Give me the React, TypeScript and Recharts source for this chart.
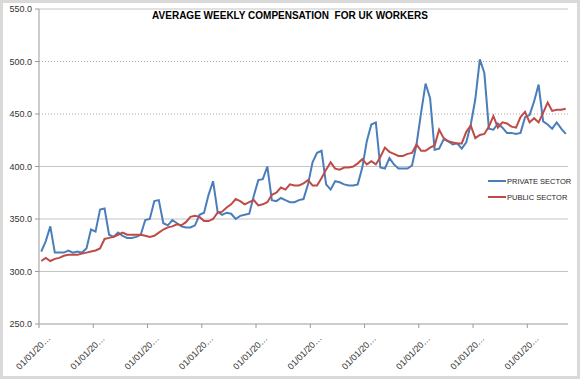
import { LineChart, Line, XAxis, YAxis, CartesianGrid, Legend, ReferenceLine } from 'recharts'

// ── Data: monthly average weekly pay (£), first point = January of year one ──

const privateSector = [
  319, 329, 343, 318, 318, 318, 320, 318, 319, 318, 322, 340,
  338, 359, 360, 335, 333, 337, 334, 332, 332, 333, 335, 349,
  350, 367, 368, 346, 344, 349, 346, 343, 342, 342, 344, 354,
  356, 373, 386, 357, 354, 356, 355, 350, 353, 354, 355, 372,
  387, 388, 400, 368, 367, 370, 368, 366, 366, 368, 369, 383,
  404, 413, 415, 383, 378, 386, 385, 383, 382, 382, 383, 399,
  424, 440, 442, 399, 398, 408, 402, 398, 398, 398, 401, 421,
  451, 479, 465, 416, 417, 426, 424, 421, 422, 417, 423, 440,
  464, 502, 489, 436, 435, 441, 437, 432, 432, 431, 432, 447,
  449, 462, 478, 443, 440, 436, 442, 436, 431,
]

const publicSector = [
  310, 313, 310, 312, 313, 315, 316, 316, 316, 317, 318, 319,
  320, 322, 331, 332, 333, 335, 337, 335, 335, 335, 335, 334,
  333, 334, 337, 340, 342, 343, 345, 344, 347, 352, 353, 352,
  348, 348, 350, 356, 357, 361, 364, 369, 367, 364, 366, 368,
  363, 364, 366, 373, 375, 380, 378, 383, 382, 382, 384, 387,
  382, 382, 389, 397, 404, 398, 397, 399, 399, 400, 403, 407,
  402, 405, 402, 409, 418, 414, 412, 410, 410, 412, 413, 421,
  415, 415, 418, 420, 435, 427, 424, 423, 422, 422, 433, 439,
  427, 430, 431, 438, 448, 437, 442, 441, 438, 437, 447, 452,
  442, 446, 442, 451, 461, 453, 454, 454, 455,
]

const seriesNames = ['PRIVATE SECTOR', 'PUBLIC SECTOR']
const seriesColors = ['#4a7ebb', '#be4b48']

const yTicks = [250, 300, 350, 400, 450, 500, 550]
// gridlines that come out dotted in the original
const solidGrid = [300, 350, 400, 550]
const dottedGrid = [450, 500]
// January boundaries of each year on the month axis
const yearTicks = [-0.5, 11.5, 23.5, 35.5, 47.5, 59.5, 71.5, 83.5, 95.5, 107.5]
const dateLabel = '01/01/20…'

const title = 'AVERAGE WEEKLY COMPENSATION  FOR UK WORKERS'

const data = privateSector.map((v, i) => ({
  month: i,
  private: v,
  public: publicSector[i],
}))

const FONT = '"Liberation Sans", Arial, sans-serif'
const AXIS = '#9a9a9a'
const GRID = '#c4c4c4'

// ── Rotated date tick ─────────────────────────────────────────────────────────

function DateTick({ x, y }: { x?: number; y?: number }) {
  const ax = (x ?? 0) + 12
  const ay = (y ?? 0) + 9
  return (
    <text
      x={ax}
      y={ay}
      transform={`rotate(-45 ${ax} ${ay})`}
      textAnchor="end"
      fontSize={9}
      fontFamily={FONT}
      fill="#333"
    >
      {dateLabel}
    </text>
  )
}

// ── Legend ───────────────────────────────────────────────────────────────────

function SectorLegend() {
  return (
    <div style={{ fontFamily: FONT, fontSize: 7.5, color: '#262626' }}>
      {seriesNames.map((name, i) => (
        <div key={name} style={{ display: 'flex', alignItems: 'center', height: 16 }}>
          <span
            style={{
              display: 'inline-block',
              width: 18,
              borderTop: `2px solid ${seriesColors[i]}`,
              marginRight: 1,
            }}
          />
          {name}
        </div>
      ))}
    </div>
  )
}

export default function App() {
  return (
    <div style={{ position: 'relative', width: 580, height: 379, background: '#fff' }}>
      <style>{'body{margin:0}'}</style>
      <LineChart
        width={580}
        height={379}
        data={data}
        margin={{ top: 9, right: 12, bottom: 0, left: 0 }}
      >
        <CartesianGrid vertical={false} stroke={GRID} horizontalValues={solidGrid} />
        {dottedGrid.map((v) => (
          <ReferenceLine key={v} y={v} stroke="#a8a8a8" strokeDasharray="1 2" />
        ))}
        <XAxis
          dataKey="month"
          type="number"
          domain={[-0.5, 116.5]}
          ticks={yearTicks}
          interval={0}
          height={55}
          tickSize={4}
          tickLine={{ stroke: AXIS }}
          axisLine={{ stroke: AXIS }}
          tick={<DateTick />}
        />
        <YAxis
          domain={[250, 550]}
          ticks={yTicks}
          width={39}
          tickSize={4}
          tickMargin={3}
          tickLine={{ stroke: AXIS }}
          axisLine={{ stroke: AXIS }}
          tickFormatter={(v) => Number(v).toFixed(1)}
          tick={{ fontSize: 9, fontFamily: FONT, fill: '#333' }}
        />
        <Legend
          layout="vertical"
          verticalAlign="middle"
          align="center"
          wrapperStyle={{ top: 173, left: 488, width: 92 }}
          content={<SectorLegend />}
        />
        <Line
          dataKey="private"
          name={seriesNames[0]}
          stroke={seriesColors[0]}
          strokeWidth={2}
          dot={false}
          isAnimationActive={false}
        />
        <Line
          dataKey="public"
          name={seriesNames[1]}
          stroke={seriesColors[1]}
          strokeWidth={2}
          dot={false}
          isAnimationActive={false}
        />
      </LineChart>
      <div
        style={{
          position: 'absolute',
          top: 10,
          left: 0,
          width: 580,
          textAlign: 'center',
          fontFamily: FONT,
          fontWeight: 'bold',
          fontSize: 10,
          whiteSpace: 'pre',
          color: '#000',
        }}
      >
        {title}
      </div>
      <div
        style={{
          position: 'absolute',
          inset: 0,
          border: '3px solid #d9d9d9',
          pointerEvents: 'none',
        }}
      />
    </div>
  )
}
